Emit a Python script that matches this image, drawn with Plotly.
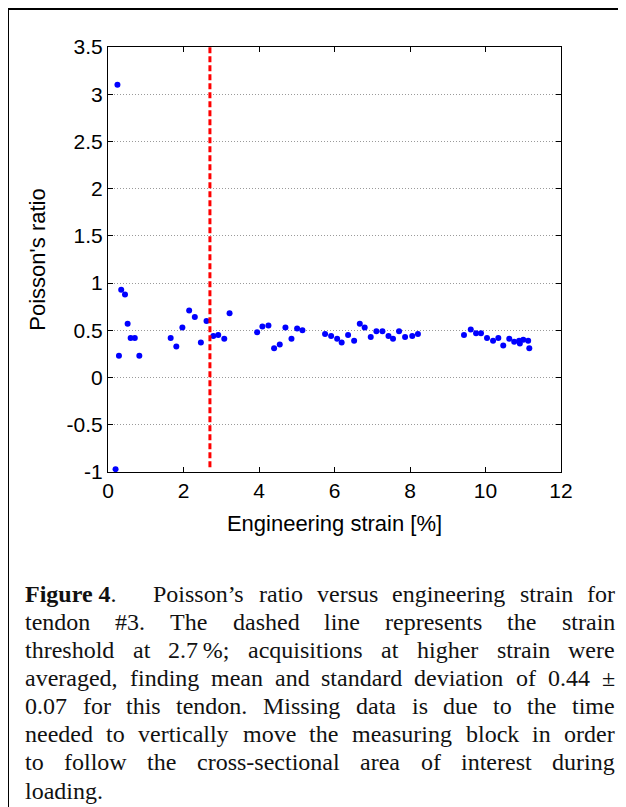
import plotly.graph_objects as go

# ---------------- data ----------------
strain = [0.20, 0.25, 0.29, 0.35, 0.45, 0.52, 0.60, 0.71, 0.83,
          1.66, 1.81, 1.97, 2.15, 2.30, 2.46, 2.61, 2.79, 2.92, 3.08, 3.22,
          3.95, 4.09, 4.25, 4.40, 4.55, 4.70, 4.86, 5.01, 5.15,
          5.75, 5.91, 6.07, 6.19, 6.36,
          6.52, 6.67, 6.80, 6.96, 7.11, 7.27, 7.43, 7.55, 7.71, 7.87, 8.06, 8.21,
          9.43, 9.61, 9.75, 9.88, 10.04, 10.20, 10.34, 10.47, 10.63, 10.76, 10.89,
          10.91, 11.00, 11.13, 11.16]
poisson = [-0.97, 3.10, 0.23, 0.93, 0.88, 0.57, 0.42, 0.42, 0.23,
           0.42, 0.33, 0.53, 0.71, 0.64, 0.37, 0.60, 0.44, 0.45, 0.41, 0.68,
           0.48, 0.54, 0.55, 0.31, 0.35, 0.53, 0.41, 0.52, 0.50,
           0.46, 0.44, 0.41, 0.37, 0.45,
           0.39, 0.57, 0.53, 0.43, 0.49, 0.49, 0.44, 0.41, 0.49, 0.43, 0.44, 0.46,
           0.45, 0.51, 0.47, 0.47, 0.42, 0.39, 0.42, 0.34, 0.41, 0.38, 0.39,
           0.36, 0.40, 0.39, 0.31]
threshold = 2.7
threshold_y = [-0.95, 3.5]

x_ticks = [0, 2, 4, 6, 8, 10, 12]
y_ticks = [-1, -0.5, 0, 0.5, 1, 1.5, 2, 2.5, 3, 3.5]
y_ticktext = ["-1", "-0.5", "0", "0.5", "1", "1.5", "2", "2.5", "3", "3.5"]

x_title = "Engineering strain [%]"
y_title = "Poisson's ratio"

caption_label = "Figure 4"
caption_lines = [
    "Poisson\u2019s ratio versus engineering strain for",
    "tendon #3. The dashed line represents the strain",
    "threshold at 2.7\u2009%; acquisitions at higher strain were",
    "averaged, finding mean and standard deviation of 0.44 \u00b1",
    "0.07 for this tendon. Missing data is due to the time",
    "needed to vertically move the measuring block in order",
    "to follow the cross-sectional area of interest during",
    "loading.",
]

# ---------------- layout geometry (reference pixel coords) ----------------
W, H = 626, 807
OFF = 8                          # page body margin of the html page
L, R, T, B = 108, 561, 47, 472   # plot area in pixels


def px(x):
    return (x - L) / (R - L)


def py(y):
    return (B - y) / (B - T)


# Times / Liberation Serif advance widths (1/1000 em)
TW = {' ': 250, '.': 250, ',': 250, ';': 278, '#': 500, '%': 833, '-': 333,
      '\u2019': 333, "'": 180, '\u00b1': 564, '\u2009': 200,
      'F': 556, 'M': 889, 'P': 556, 'T': 611,
      'a': 444, 'b': 500, 'c': 444, 'd': 500, 'e': 444, 'f': 333, 'g': 500,
      'h': 500, 'i': 278, 'j': 278, 'k': 500, 'l': 278, 'm': 778, 'n': 500,
      'o': 500, 'p': 500, 'q': 500, 'r': 333, 's': 389, 't': 278, 'u': 500,
      'v': 500, 'w': 722, 'x': 500, 'y': 500, 'z': 444}
for d in "0123456789":
    TW[d] = 500
TWB = {'F': 611, 'i': 278, 'g': 500, 'u': 556, 'r': 444, 'e': 444, ' ': 250, '4': 500}

CAP_SIZE = 24


def wlen(s, table=TW):
    return sum(table.get(c, 500) for c in s) * CAP_SIZE / 1000.0


fig = go.Figure()

fig.add_trace(go.Scatter(
    x=strain, y=poisson, mode="markers",
    marker=dict(color="#0000ff", size=6, line=dict(width=0)),
    showlegend=False, hoverinfo="skip"))

fig.add_trace(go.Scatter(
    x=[threshold, threshold], y=threshold_y, mode="lines",
    line=dict(color="#ff0000", width=3, dash="6px,3px"),
    showlegend=False, hoverinfo="skip"))

axis_common = dict(
    showline=True, linecolor="black", linewidth=1, mirror="allticks",
    ticks="inside", ticklen=5, tickcolor="black", tickwidth=1,
    zeroline=False,
    tickfont=dict(family="Liberation Sans, Arial", size=21, color="black"),
)

fig.update_xaxes(range=[0, 12], tickvals=x_ticks, showgrid=False,
                 title=dict(text=x_title, standoff=14,
                            font=dict(family="Liberation Sans, Arial", size=22, color="black")),
                 **axis_common)
fig.update_yaxes(range=[-1, 3.5], tickvals=y_ticks, ticktext=y_ticktext,
                 showgrid=True, gridcolor="#9a9a9a", griddash="1px,2px", gridwidth=1,
                 title=dict(text=y_title, standoff=14,
                            font=dict(family="Liberation Sans, Arial", size=22, color="black")),
                 **axis_common)

# outer frame
fig.add_shape(type="rect", xref="paper", yref="paper",
              x0=px(8), x1=px(620), y0=py(814), y1=py(9),
              line=dict(color="black", width=2), fillcolor="rgba(0,0,0,0)", layer="below")

# caption, justified word by word
annotations = []
LEFT, RIGHT = 25, 615
baseline0, lead = 602, 28.1
cfont = dict(family="Liberation Serif, Times New Roman, serif", size=CAP_SIZE, color="#111111")


def add_word(text, x, yc, anchor="left"):
    annotations.append(dict(text=text, x=px(x), y=py(yc), xref="paper", yref="paper",
                            xanchor=anchor, yanchor="middle", showarrow=False,
                            borderpad=0, borderwidth=0, font=cfont))


for i, line in enumerate(caption_lines):
    yc = baseline0 + i * lead - 0.34 * CAP_SIZE
    words = line.split(" ")
    if i == 0:
        label_w = wlen(caption_label, TWB) + wlen(".")
        add_word("<b>%s</b>." % caption_label, LEFT, yc)
        extra_first = 22
        start = LEFT + label_w
        widths = [wlen(w) for w in words]
        gaps = len(words)
        g = (RIGHT - start - sum(widths) - extra_first) / gaps
        x = start + g + extra_first
        for j, w in enumerate(words):
            if j == len(words) - 1:
                add_word(w, RIGHT, yc, "right")
            else:
                add_word(w, x, yc)
            x += widths[j] + g
    elif i == len(caption_lines) - 1:
        add_word(line, LEFT, yc)
    else:
        widths = [wlen(w) for w in words]
        g = (RIGHT - LEFT - sum(widths)) / (len(words) - 1)
        x = LEFT
        for j, w in enumerate(words):
            if j == len(words) - 1:
                add_word(w, RIGHT, yc, "right")
            else:
                add_word(w, x, yc)
            x += widths[j] + g

fig.update_layout(
    width=W - OFF, height=H - OFF,
    margin=dict(l=L - OFF, r=W - R, t=T - OFF, b=H - B, pad=0),
    paper_bgcolor="white", plot_bgcolor="white",
    annotations=annotations,
    showlegend=False,
)

fig.write_html("out.html")
